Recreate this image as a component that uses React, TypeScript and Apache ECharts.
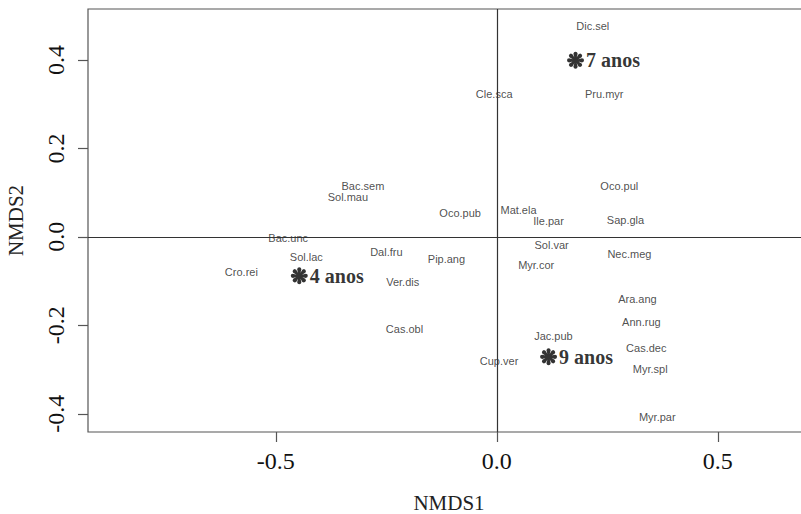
import React, { useEffect, useRef } from "react";
import * as echarts from "echarts";

const speciesNames = [
  "Dic.sel", "Cle.sca", "Pru.myr", "Bac.sem", "Sol.mau", "Oco.pul", "Oco.pub", "Mat.ela",
  "Ile.par", "Sap.gla", "Bac.unc", "Sol.var", "Nec.meg", "Sol.lac", "Dal.fru", "Pip.ang",
  "Cro.rei", "Ver.dis", "Myr.cor", "Ara.ang", "Ann.rug", "Cas.obl", "Jac.pub", "Cas.dec",
  "Cup.ver", "Myr.spl", "Myr.par",
];
const speciesX = [
  0.217, -0.006, 0.243, -0.303, -0.337, 0.277, -0.083, 0.049,
  0.117, 0.291, -0.472, 0.124, 0.300, -0.431, -0.250, -0.114,
  -0.578, -0.213, 0.089, 0.318, 0.327, -0.209, 0.128, 0.338,
  0.005, 0.347, 0.363,
];
const speciesY = [
  0.477, 0.323, 0.323, 0.115, 0.090, 0.115, 0.054, 0.061,
  0.036, 0.038, -0.003, -0.018, -0.038, -0.045, -0.034, -0.050,
  -0.079, -0.102, -0.063, -0.140, -0.192, -0.208, -0.224, -0.251,
  -0.280, -0.299, -0.407,
];

const siteNames = ["7 anos", "4 anos", "9 anos"];
const siteX = [0.178, -0.447, 0.117];
const siteY = [0.399, -0.088, -0.271];

const xTicks = [-0.5, 0, 0.5];
const yTicks = [-0.4, -0.2, 0, 0.2, 0.4];

function flowerPath(): string {
  let d = "";
  for (let i = 0; i < 8; i++) {
    const a = (i * Math.PI) / 4;
    const p = (r: number, da: number) =>
      `${(r * Math.cos(a + da)).toFixed(3)} ${(r * Math.sin(a + da)).toFixed(3)}`;
    d += `M0 0 L${p(3.5, -0.4)} L${p(8, -0.32)} L${p(9.6, -0.18)} L${p(10, 0)} L${p(9.6, 0.18)} L${p(8, 0.32)} L${p(3.5, 0.4)} Z `;
  }
  return "path://" + d;
}

export default function App() {
  const ref = useRef<HTMLDivElement>(null);
  useEffect(() => {
    document.body.style.margin = "0";
    const chart = echarts.init(ref.current!, null, { renderer: "svg" });
    const serif = "'Liberation Serif', 'Times New Roman', serif";
    const sans = "'Liberation Sans', Arial, sans-serif";
    chart.setOption({
      animation: false,
      backgroundColor: "#ffffff",
      grid: {
        left: 88,
        top: 9,
        width: 722,
        height: 423,
        show: true,
        borderColor: "#555",
        borderWidth: 1.2,
        backgroundColor: "transparent",
        containLabel: false,
        outerBoundsMode: "none",
      },
      xAxis: {
        type: "value",
        min: -0.925,
        max: 0.7085,
        splitLine: { show: false },
        axisLine: { show: false, onZero: false },
        axisTick: {
          show: true,
          length: 10,
          lineStyle: { color: "#555", width: 1.2 },
          customValues: xTicks,
        },
        axisLabel: {
          customValues: xTicks,
          fontFamily: serif,
          fontSize: 24,
          color: "#111",
          margin: 17,
          formatter: (v: number) => v.toFixed(1),
        },
        name: "NMDS1",
        nameLocation: "middle",
        nameGap: 60,
        nameTextStyle: { fontFamily: serif, fontSize: 21, color: "#222" },
      },
      yAxis: {
        type: "value",
        min: -0.441,
        max: 0.515,
        splitLine: { show: false },
        axisLine: { show: false, onZero: false },
        axisTick: {
          show: true,
          length: 10,
          lineStyle: { color: "#555", width: 1.2 },
          customValues: yTicks,
        },
        axisLabel: {
          customValues: yTicks,
          rotate: 90,
          fontFamily: serif,
          fontSize: 24,
          color: "#111",
          margin: 20,
          formatter: (v: number) => v.toFixed(1),
        },
        name: "NMDS2",
        nameLocation: "middle",
        nameGap: 62,
        nameRotate: 90,
        nameTextStyle: { fontFamily: serif, fontSize: 21, color: "#222" },
      },
      series: [
        {
          type: "scatter",
          silent: true,
          symbolSize: 0,
          data: speciesNames.map((n, i) => ({ name: n, value: [speciesX[i], speciesY[i]] })),
          label: {
            show: true,
            position: "inside",
            formatter: (p: any) => p.name,
            fontFamily: sans,
            fontSize: 11,
            color: "#222",
          },
          markLine: {
            silent: true,
            symbol: "none",
            label: { show: false },
            lineStyle: { color: "#333", width: 1.2, type: "solid" },
            data: [{ xAxis: 0 }, { yAxis: 0 }],
          },
          z: 3,
        },
        {
          type: "scatter",
          silent: true,
          symbol: flowerPath(),
          symbolSize: 17,
          itemStyle: { color: "#000" },
          data: siteNames.map((n, i) => ({ name: n, value: [siteX[i], siteY[i]] })),
          label: {
            show: true,
            position: "right",
            distance: 2,
            formatter: (p: any) => p.name,
            fontFamily: serif,
            fontWeight: "bold",
            fontSize: 20,
            color: "#000",
          },
          z: 4,
        },
      ],
    });
    return () => chart.dispose();
  }, []);
  return <div ref={ref} style={{ width: 801, height: 514 }} />;
}
